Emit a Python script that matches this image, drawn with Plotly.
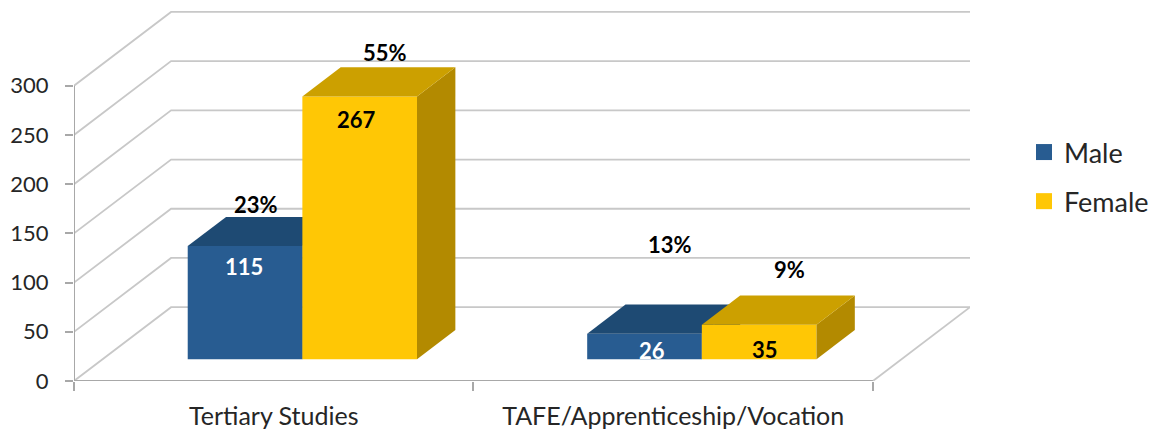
import plotly.graph_objects as go

categories = ["Tertiary Studies", "TAFE/Apprenticeship/Vocation"]
male_values = [115, 26]
female_values = [267, 35]
male_pct = ["23%", "13%"]
female_pct = ["55%", "9%"]
y_ticks = [0, 50, 100, 150, 200, 250, 300]

# Pseudo-3D projection (data units)
DX, DY = 0.243, 75.0
NEAR, FAR = 0.295, 0.69
BAR_W = 0.287
X_MAX = 2 + DX
Y_MAX = 380

MALE = dict(front="#285C91", top="#1E4A73", side="#1E4A73")
FEMALE = dict(front="#FFC705", top="#CCA000", side="#B38A00")
GRID = "#C8C8C8"
AXIS = "#A8A8A8"
TEXT = "#262626"
FONT = "Lato, Carlito, sans-serif"

fig = go.Figure()


def poly(xs, ys, color, xaxis):
    fig.add_trace(go.Scatter(x=xs, y=ys, mode="lines", fill="toself", fillcolor=color,
                             line=dict(width=0, color=color), hoverinfo="skip",
                             showlegend=False, xaxis=xaxis, yaxis="y"))


# wall and floor lines
for v in y_ticks:
    fig.add_trace(go.Scatter(x=[0, DX, X_MAX], y=[v, v + DY, v + DY], mode="lines",
                             line=dict(color=GRID, width=1.8), hoverinfo="skip",
                             showlegend=False))
fig.add_trace(go.Scatter(x=[2, X_MAX], y=[0, DY], mode="lines",
                         line=dict(color=GRID, width=1.8), hoverinfo="skip", showlegend=False))
# axis lines
fig.add_trace(go.Scatter(x=[0, 0, 2], y=[y_ticks[-1], 0, 0], mode="lines",
                         line=dict(color=AXIS, width=2), hoverinfo="skip", showlegend=False))


def series(values, side_index, cols, xaxis):
    lefts = [i + (1 - 2 * BAR_W) / 2 + NEAR * DX + side_index * BAR_W for i in range(len(values))]
    base = NEAR * DY
    ddx = (FAR - NEAR) * DX
    ddy = (FAR - NEAR) * DY
    fig.add_trace(go.Bar(x=lefts, y=values, base=base, width=BAR_W, offset=0,
                         marker=dict(color=cols["front"], line=dict(width=0)),
                         hoverinfo="skip", showlegend=False, xaxis=xaxis, yaxis="y"))
    for l, v in zip(lefts, values):
        r = l + BAR_W
        t = base + v
        poly([r, r + ddx, r + ddx, r, r], [base, base + ddy, t + ddy, t, base], cols["side"], xaxis)
        poly([l, r, r + ddx, l + ddx, l], [t, t, t + ddy, t + ddy, t], cols["top"], xaxis)


series(male_values, 0, MALE, "x2")
series(female_values, 1, FEMALE, "x3")

# legend entries
for name, cols in (("Male", MALE), ("Female", FEMALE)):
    fig.add_trace(go.Scatter(x=[None], y=[None], mode="markers", name=name, legendgroup=name,
                             marker=dict(symbol="square", size=16, color=cols["front"])))

ann = []


def label(text, x, y, color="black"):
    ann.append(dict(text=f"<b>{text}</b>", x=x, y=y, xref="x", yref="y", showarrow=False,
                    xanchor="center", yanchor="middle",
                    font=dict(family=FONT, size=22, color=color)))


label(male_values[0], 0.426, male_values[0] + 1, "white")
label(female_values[0], 0.707, female_values[0] - 1, "black")
label(male_values[1], 1.446, male_values[1] + 5, "white")
label(female_values[1], 1.729, female_values[1] - 3, "black")
label(male_pct[0], 0.455, 179)
label(female_pct[0], 0.778, 334)
label(male_pct[1], 1.492, 139)
label(female_pct[1], 1.792, 113)

axis_common = dict(range=[0, X_MAX], showgrid=False, zeroline=False, fixedrange=True, automargin=False)
fig.update_layout(
    width=1161, height=432, paper_bgcolor="white", plot_bgcolor="white",
    margin=dict(l=74, r=191, t=7, b=51, autoexpand=False), barmode="overlay",
    annotations=ann,
    font=dict(family=FONT, color=TEXT, size=22),
    xaxis=dict(**axis_common, tickmode="array", tickvals=[0.5, 1.5], ticktext=categories,
               ticks="", tickfont=dict(family=FONT, size=25, color=TEXT), ticklabelstandoff=18),
    xaxis2=dict(**axis_common, overlaying="x", anchor="y", side="bottom", tickmode="array",
                tickvals=[0, 1, 2], ticks="outside", ticklen=9, tickwidth=2, tickcolor=AXIS,
                showticklabels=False),
    xaxis3=dict(**axis_common, overlaying="x", anchor="y", side="bottom", showticklabels=False,
                ticks=""),
    yaxis=dict(range=[0, Y_MAX], showgrid=False, zeroline=False, fixedrange=True, tickmode="array",
               automargin=False, tickvals=y_ticks, ticks="outside", ticklen=8, tickwidth=2,
               tickcolor=AXIS, tickfont=dict(family=FONT, size=22, color=TEXT), ticklabelstandoff=12),
    legend=dict(x=(1024 - 74) / 896, xanchor="left", y=(381 - 128) / 374, yanchor="top",
                font=dict(family=FONT, size=27, color=TEXT),
                tracegroupgap=11, bgcolor="rgba(0,0,0,0)", itemsizing="trace"),
)
fig.write_html("out.html", config=dict(displayModeBar=False),
               post_script="document.body.style.margin='0';document.documentElement.style.overflow='hidden';")
